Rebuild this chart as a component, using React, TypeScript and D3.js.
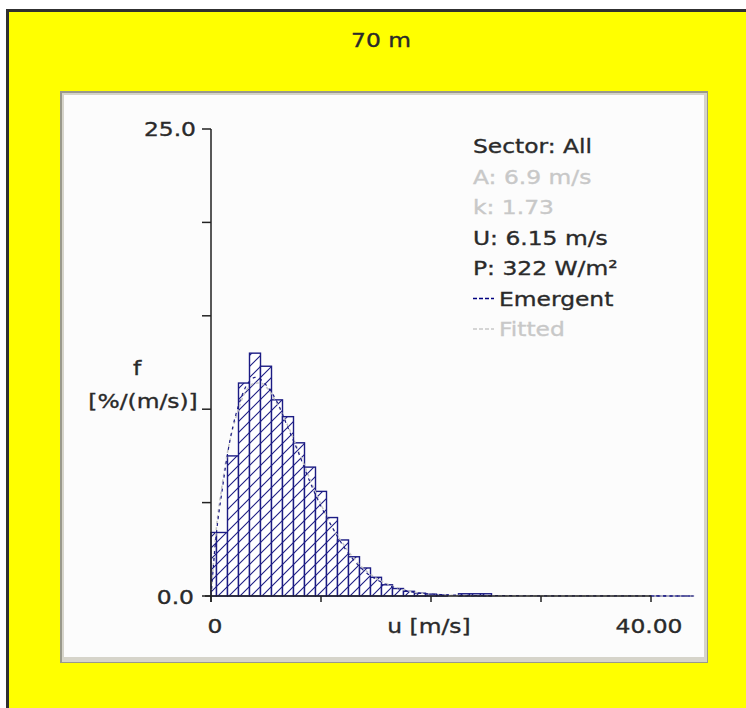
import React, { useEffect, useRef } from 'react';
import * as d3 from 'd3';

// observed histogram, 1 m/s bins centred on whole speeds
const binSpeeds = [0, 1, 2, 3, 4, 5, 6, 7, 8, 9, 10, 11, 12, 13, 14, 15, 16, 17, 18, 19, 20, 21, 22, 23, 24, 25];
const binFreq = [3.4, 3.4, 7.5, 11.4, 13.0, 12.3, 10.5, 9.6, 8.2, 6.9, 5.6, 4.2, 3.0, 2.1, 1.5, 1.0, 0.6, 0.4, 0.25, 0.15, 0.1, 0.05, 0, 0.12, 0.12, 0.12];

// curves
const curveSpeeds = [0, 0.5, 1, 1.5, 2, 2.5, 3, 3.5, 4, 4.5, 5, 6, 7, 8, 9, 10, 11, 12, 13, 14, 15, 16, 17, 18, 20, 25, 44];
const fittedFreq = [0, 3.7, 5.9, 7.7, 9.0, 10.0, 10.8, 11.2, 11.4, 11.4, 11.2, 10.3, 9.1, 7.7, 6.25, 4.9, 3.7, 2.8, 2.0, 1.4, 0.96, 0.64, 0.42, 0.26, 0.1, 0, 0];
const emergentFreq = [0, 3.4, 5.6, 7.6, 9.1, 10.2, 11.0, 11.5, 11.7, 11.6, 11.3, 10.4, 9.0, 7.6, 6.1, 4.8, 3.7, 2.7, 1.9, 1.3, 0.9, 0.6, 0.4, 0.25, 0.1, 0.02, 0];

const yTicks = [0, 5, 10, 15, 20, 25];
const xTicks = [0, 10, 20, 30, 40];

const legendLines = [
  { text: 'Sector: All', color: '#2a2a2a' },
  { text: 'A: 6.9 m/s', color: '#c8c8c8' },
  { text: 'k: 1.73', color: '#c8c8c8' },
  { text: 'U: 6.15 m/s', color: '#2a2a2a' },
  { text: 'P: 322 W/m\u00b2', color: '#2a2a2a' },
  { text: 'Emergent', color: '#2a2a2a', dash: '#000080' },
  { text: 'Fitted', color: '#c8c8c8', dash: '#c8c8c8' },
];

const W = 746;
const H = 708;
const NAVY = '#1c1c84';
const FONT = '"DejaVu Sans", Verdana, sans-serif';
const SX = 1.17; // the source text is stretched sideways

export default function App() {
  const ref = useRef<SVGSVGElement>(null);

  useEffect(() => {
    document.body.style.margin = '0';
    const svg = d3.select(ref.current);
    svg.selectAll('*').remove();

    const x = d3.scaleLinear().domain([0, 44]).range([211, 695]);
    const y = d3.scaleLinear().domain([0, 25]).range([596, 129]);

    const label = (tx: number, ty: number, s: string, anchor = 'middle', color = '#2a2a2a', size = 20) =>
      svg.append('text')
        .attr('transform', `translate(${tx},${ty}) scale(${SX},1)`)
        .attr('text-anchor', anchor)
        .attr('font-family', FONT)
        .attr('font-size', size)
        .attr('fill', color)
        .attr('stroke', color)
        .attr('stroke-width', 0.35)
        .text(s);

    // page frame
    svg.append('rect').attr('width', W).attr('height', H).attr('fill', '#fff');
    svg.append('rect').attr('x', 6).attr('y', 9).attr('width', W - 6).attr('height', H - 9).attr('fill', '#303030');
    svg.append('rect').attr('x', 9).attr('y', 12).attr('width', W - 9).attr('height', H - 12).attr('fill', '#ffff00');

    label(381, 47, '70 m');

    // panel with bevel
    svg.append('rect').attr('x', 60).attr('y', 91).attr('width', 648).attr('height', 572).attr('fill', '#9a998c');
    svg.append('rect').attr('x', 62).attr('y', 93).attr('width', 645).attr('height', 569).attr('fill', '#d6d4ca');
    svg.append('rect').attr('x', 64).attr('y', 95).attr('width', 640).attr('height', 562).attr('fill', '#fcfcfc');

    // hatch
    const defs = svg.append('defs');
    const pat = defs.append('pattern')
      .attr('id', 'hatch')
      .attr('patternUnits', 'userSpaceOnUse')
      .attr('width', 11).attr('height', 11);
    pat.append('rect').attr('width', 11).attr('height', 11).attr('fill', '#fff');
    pat.append('path')
      .attr('d', 'M-1,12 L12,-1 M-3,3 L3,-3 M8,14 L14,8')
      .attr('stroke', NAVY).attr('stroke-width', 1.1);

    // bars
    svg.append('g').selectAll('rect')
      .data(binSpeeds.map((s, i) => ({ s, v: binFreq[i] })).filter(d => d.v > 0))
      .enter().append('rect')
      .attr('x', d => x(Math.max(0, d.s - 0.5)))
      .attr('width', d => x(d.s + 0.5) - x(Math.max(0, d.s - 0.5)))
      .attr('y', d => y(d.v))
      .attr('height', d => y(0) - y(d.v))
      .attr('fill', 'url(#hatch)')
      .attr('stroke', NAVY)
      .attr('stroke-width', 1.4);

    // baseline of the histogram beyond the axis end
    svg.append('line')
      .attr('x1', x(40)).attr('x2', x(44) - 2)
      .attr('y1', y(0)).attr('y2', y(0))
      .attr('stroke', NAVY).attr('stroke-width', 1.5);

    const line = d3.line<number>()
      .x((_, i) => x(curveSpeeds[i]))
      .curve(d3.curveMonotoneX);

    svg.append('path')
      .attr('d', line.y(d => y(d))(fittedFreq))
      .attr('fill', 'none').attr('stroke', '#c4c4c4')
      .attr('stroke-width', 1.5).attr('stroke-dasharray', '3,3');
    svg.append('path')
      .attr('d', line.y(d => y(d))(emergentFreq))
      .attr('fill', 'none').attr('stroke', NAVY)
      .attr('stroke-width', 1.2).attr('stroke-dasharray', '3,4');

    // axes
    const axisColor = '#222';
    svg.append('line').attr('x1', x(0)).attr('x2', x(0)).attr('y1', y(25)).attr('y2', y(0) + 6)
      .attr('stroke', axisColor).attr('stroke-width', 1.5);
    svg.append('line').attr('x1', x(0) - 6).attr('x2', x(40)).attr('y1', y(0)).attr('y2', y(0))
      .attr('stroke', axisColor).attr('stroke-width', 1.5);

    svg.append('g').selectAll('line').data(yTicks).enter().append('line')
      .attr('x1', x(0) - 9).attr('x2', x(0))
      .attr('y1', d => y(d)).attr('y2', d => y(d))
      .attr('stroke', axisColor).attr('stroke-width', 1.5);
    svg.append('g').selectAll('line').data(xTicks).enter().append('line')
      .attr('x1', d => x(d)).attr('x2', d => x(d))
      .attr('y1', y(0)).attr('y2', y(0) + 6)
      .attr('stroke', axisColor).attr('stroke-width', 1.5);

    label(196, y(25) + 7, '25.0', 'end');
    label(194, y(0) + 8, '0.0', 'end');
    label(137, 375, 'f');
    label(143, 408, '[%/(m/s)]');
    label(x(0) + 4, 633, '0');
    label(x(20) - 2, 633, 'u [m/s]');
    label(x(40) - 2, 633, '40.00');

    // legend
    legendLines.forEach((d, i) => {
      const ly = 153 + i * 30.5;
      if (d.dash) {
        svg.append('line')
          .attr('x1', 473).attr('x2', 494).attr('y1', ly - 7).attr('y2', ly - 7)
          .attr('stroke', d.dash).attr('stroke-width', 1.5).attr('stroke-dasharray', '4,2');
        label(499, ly, d.text, 'start', d.color);
      } else {
        label(473, ly, d.text, 'start', d.color);
      }
    });
  }, []);

  return <svg ref={ref} width={W} height={H} style={{ display: 'block' }} />;
}
